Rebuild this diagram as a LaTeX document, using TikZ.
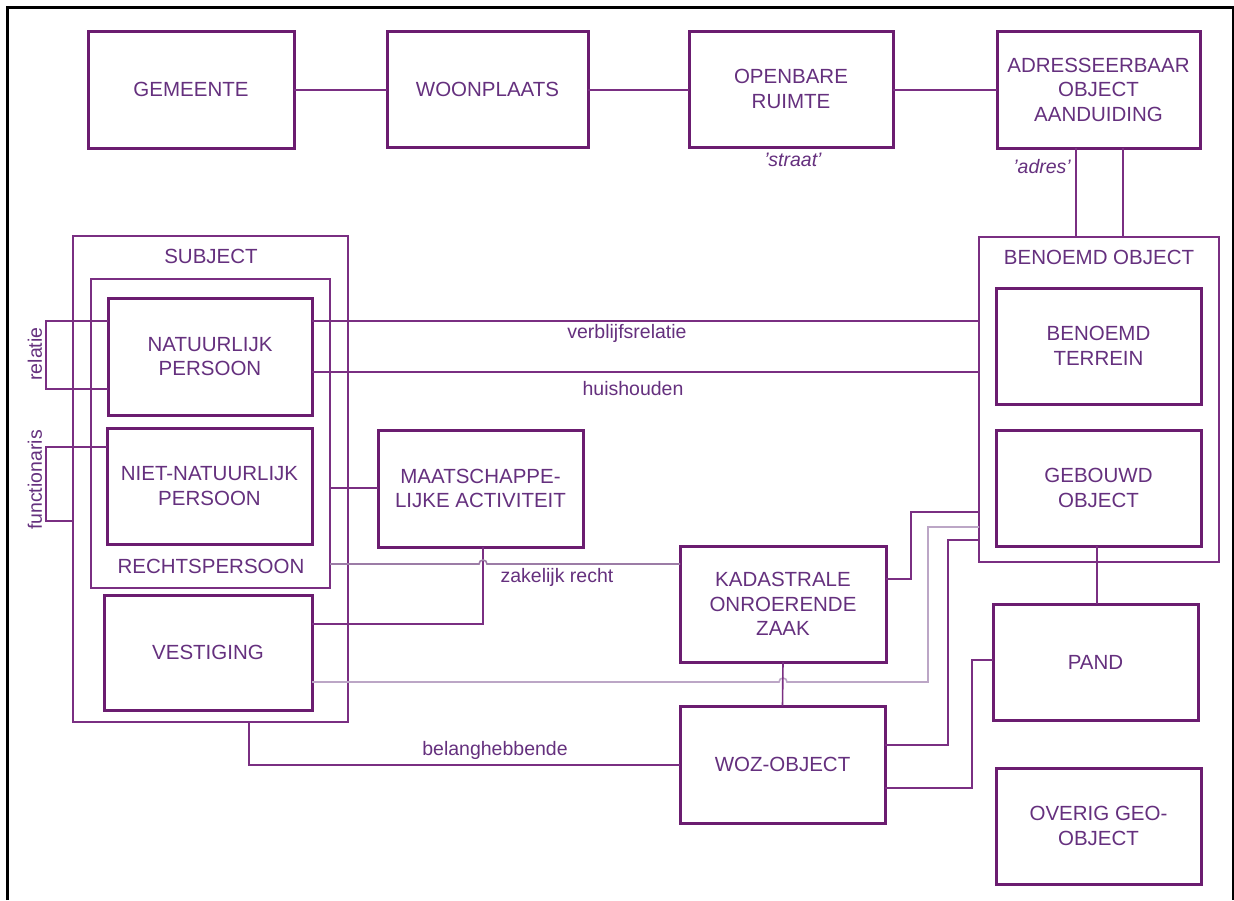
\documentclass[tikz,border=0pt]{standalone}
\usepackage{fontspec}
\setmainfont{Liberation Sans}
\definecolor{bord}{HTML}{6B1D70}
\definecolor{txt}{HTML}{65307E}
\definecolor{ln}{HTML}{7A2F82}
\definecolor{lnmid}{HTML}{9C7CA6}
\definecolor{lnlight}{HTML}{BCA6C6}
\begin{document}
\begin{tikzpicture}[x=1pt,y=-1pt,
  bx/.style={draw=bord,line width=3pt,inner sep=0pt,outer sep=0pt,align=center,text=txt,font=\fontsize{20.5}{24.5}\selectfont},
  frm/.style={draw=ln,line width=1.6pt,inner sep=0pt,outer sep=0pt},
  ttl/.style={text=txt,inner sep=0pt,font=\fontsize{20.5}{24.5}\selectfont},
  con/.style={draw=ln,line width=1.6pt},
  lbl/.style={text=txt,inner sep=0pt,font=\fontsize{19.5}{23}\selectfont},
  ilbl/.style={text=txt,inner sep=0pt,font=\fontsize{19.5}{23}\selectfont\itshape}]
\useasboundingbox (0,0) rectangle (1234,900);
\fill[white] (0,0) rectangle (1234,900);
% outer black frame
\draw[black,line width=3pt] (7,900) -- (7,7) -- (1234,7);
\draw[black,line width=2pt] (1233,7) -- (1233,900);

% top row
\node[bx,minimum width=206pt,minimum height=117pt] (gem) at (191,89.5) {GEMEENTE};
\node[bx,minimum width=201pt,minimum height=116pt] (woon) at (487.5,89) {WOONPLAATS};
\node[bx,minimum width=204pt,minimum height=116pt] (open) at (791,89) {OPENBARE\\RUIMTE};
\node[bx,minimum width=203pt,minimum height=117pt] (adr) at (1098.5,89.5) {ADRESSEERBAAR\\OBJECT\\AANDUIDING};
\node[ilbl] (straat) at (793,160) {'straat'};
\node[ilbl,anchor=east] (adres) at (1071,167) {'adres'};

% frames
\node[frm,minimum width=275pt,minimum height=486pt] (subj) at (210.5,479) {};
\node[ttl] (subjl) at (211,256) {SUBJECT};
\node[frm,minimum width=239pt,minimum height=309pt] (rp) at (210.5,433.5) {};
\node[ttl] (rpl) at (211,566) {RECHTSPERSOON};
\node[frm,minimum width=240pt,minimum height=325pt] (bo) at (1099,399.5) {};
\node[ttl] (bol) at (1099,257) {BENOEMD OBJECT};

% boxes
\node[bx,minimum width=204pt,minimum height=117pt] (np) at (210,356.5) {NATUURLIJK\\PERSOON};
\node[bx,minimum width=205pt,minimum height=116pt] (nnp) at (209.5,486) {NIET-NATUURLIJK\\PERSOON};
\node[bx,minimum width=208pt,minimum height=115pt] (vest) at (208,652.5) {VESTIGING};
\node[bx,minimum width=205pt,minimum height=117pt] (maat) at (480.5,488.5) {MAATSCHAPPE-\\LIJKE ACTIVITEIT};
\node[bx,minimum width=206pt,minimum height=116pt] (kad) at (783,604) {KADASTRALE\\ONROERENDE\\ZAAK};
\node[bx,minimum width=205pt,minimum height=117pt] (woz) at (782.5,764.5) {WOZ-OBJECT};
\node[bx,minimum width=205pt,minimum height=116pt] (bt) at (1098.5,346) {BENOEMD\\TERREIN};
\node[bx,minimum width=205pt,minimum height=116pt] (go) at (1098.5,488) {GEBOUWD\\OBJECT};
\node[bx,minimum width=205pt,minimum height=116pt] (pand) at (1095.5,662) {PAND};
\node[bx,minimum width=205pt,minimum height=116pt] (ov) at (1098.5,826) {OVERIG GEO-\\OBJECT};

% top row connectors
\draw[con] (gem.east |- 0,90) -- (woon.west |- 0,90);
\draw[con] (woon.east |- 0,90) -- (open.west |- 0,90);
\draw[con] (open.east |- 0,90) -- (adr.west |- 0,90);
\draw[con] (adr.south -| 1076,0) -- (bo.north -| 1076,0);
\draw[con] (adr.south -| 1123,0) -- (bo.north -| 1123,0);

% relatie / functionaris loops
\draw[con] (np.west |- 0,321) -- (46,321) -- (46,389) -- (np.west |- 0,389);
\node[lbl,rotate=90] (relatie) at (35,354) {relatie};
\draw[con] (nnp.west |- 0,447) -- (46,447) -- (46,521) -- (subj.west |- 0,521);
\node[lbl,rotate=90] (functionaris) at (35,480) {functionaris};

% verblijfsrelatie / huishouden
\draw[con] (np.east |- 0,321) -- (bo.west |- 0,321);
\node[lbl] (verbl) at (627,333) {verblijfsrelatie};
\draw[con] (np.east |- 0,372) -- (bo.west |- 0,372);
\node[lbl] (huish) at (633,389) {huishouden};

% rechtspersoon - maatschappelijke activiteit
\draw[con] (rp.east |- 0,488) -- (maat.west |- 0,488);

% maatschappelijke activiteit - vestiging
\draw[con] (maat.south -| 483,0) -- (483,624) -- (vest.east |- 0,624);

% zakelijk recht (with hop)
\draw[draw=lnmid,line width=1.6pt] (rp.east |- 0,564) -- (479,564)
  arc[start angle=180,end angle=0,radius=4pt] -- (kad.west |- 0,564);
\node[lbl] (zak) at (557,577) {zakelijk recht};

% kadastrale - benoemd object
\draw[con] (kad.east |- 0,579) -- (911,579) -- (911,512) -- (bo.west |- 0,512);

% vestiging - benoemd object (light, with hop)
\draw[draw=lnlight,line width=1.6pt] (vest.east |- 0,682) -- ([xshift=-4pt]kad.south |- 0,682)
  arc[start angle=180,end angle=0,radius=4pt] -- (928,682) -- (928,527) -- (bo.west |- 0,527);

% kadastrale - woz
\draw[con] (kad.south) -- (woz.north);

% woz - benoemd object, woz - pand
\draw[con] (woz.east |- 0,745) -- (948,745) -- (948,540) -- (bo.west |- 0,540);
\draw[con] (woz.east |- 0,788) -- (972,788) -- (972,660) -- (pand.west |- 0,660);

% gebouwd object - pand
\draw[con] (go.south -| 1097,0) -- (pand.north -| 1097,0);

% belanghebbende
\draw[con] (subj.south -| 249,0) -- (249,765) -- (woz.west |- 0,765);
\node[lbl] (belang) at (495,750) {belanghebbende};
\end{tikzpicture}
\end{document}
